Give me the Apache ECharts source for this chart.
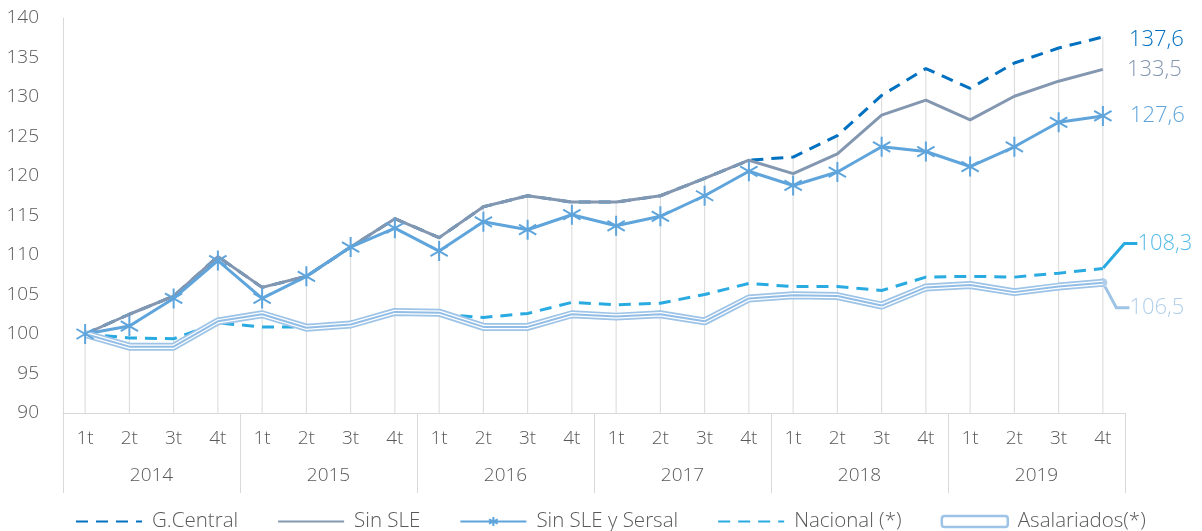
<!DOCTYPE html>
<html>
<head>
<meta charset="utf-8">
<script src="https://cdn.jsdelivr.net/npm/echarts@6/dist/echarts.min.js"></script>
<style>
  html, body { margin: 0; padding: 0; background: #fff; }
  #chart { width: 1202px; height: 531px; }
</style>
</head>
<body>
<div id="chart"></div>
<script>
const years = ['2014', '2015', '2016', '2017', '2018', '2019']
const quarters = ['1t', '2t', '3t', '4t']
const categories = years.flatMap((y) => quarters.map((q) => q + ' ' + y))

const gCentral = [100, 102.5, 104.8, 109.8, 105.9, 107.3, 111.0, 114.6, 112.2, 116.1, 117.5, 116.7,
  116.7, 117.5, 119.7, 122.0, 122.4, 125.1, 130.2, 133.6, 131.1, 134.3, 136.2, 137.6]
const sinSle = [100, 102.5, 104.8, 109.8, 105.9, 107.3, 111.0, 114.6, 112.2, 116.1, 117.5, 116.7,
  116.7, 117.5, 119.7, 122.0, 120.3, 122.8, 127.7, 129.6, 127.1, 130.1, 132.0, 133.5]
const sinSleSersal = [100, 101.0, 104.5, 109.3, 104.5, 107.3, 111.0, 113.4, 110.5, 114.2, 113.2, 115.1,
  113.7, 114.9, 117.5, 120.6, 118.8, 120.5, 123.7, 123.1, 121.2, 123.7, 126.8, 127.6]
const nacional = [100, 99.5, 99.4, 101.4, 100.9, 100.9, 101.5, 102.8, 102.5, 102.1, 102.6, 104.0,
  103.7, 103.9, 105.0, 106.4, 106.0, 106.0, 105.5, 107.2, 107.3, 107.2, 107.7, 108.3]
const asalariados = [100, 98.4, 98.4, 101.6, 102.5, 100.8, 101.2, 102.8, 102.7, 100.9, 100.9, 102.5,
  102.2, 102.5, 101.6, 104.5, 104.9, 104.8, 103.6, 105.9, 106.2, 105.3, 106.0, 106.5]

const yTicks = { min: 90, max: 140, interval: 5 }

// drop lines go from the axis up to the highest series
const dropLines = categories.map((_, i) =>
  Math.max(gCentral[i], sinSle[i], sinSleSersal[i], nacional[i], asalariados[i]))

const last = categories.length - 1
const fmt = (v) => v.toFixed(1).replace('.', ',')

const FONT = 'Open Sans'
const WEIGHT = 300
const TEXT = '#595959'
const AXIS = '#d9d9d9'
const C_GC = '#0070c0'
const C_SLE = '#8497b0'
const C_SERSAL = '#5fa5dc'
const C_NAC = '#29abe2'
const C_ASAL = '#9dc3e6'

const asterisk = 'path://M10 0L10 20M1.34 5L18.66 15M1.34 15L18.66 5'
const noSymbol = { opacity: 0 }

const chart = echarts.init(document.getElementById('chart'))

const endLabel = (color, distance, offset) => ({
  show: true,
  distance,
  offset,
  color,
  fontSize: 22,
  fontFamily: FONT,
  fontWeight: WEIGHT,
  formatter: (p) => fmt(p.value),
})

const option = {
  animation: false,
  textStyle: { fontFamily: FONT, fontWeight: WEIGHT },
  grid: { left: 63, right: 77, top: 18, bottom: 118 },
  legend: {
    left: 70,
    top: 506,
    itemWidth: 66,
    itemHeight: 11,
    itemGap: 39,
    textStyle: { color: TEXT, fontSize: 20.5, fontFamily: FONT, fontWeight: WEIGHT, padding: [0, 0, 0, 5] },
    data: [
      { name: 'G.Central', itemStyle: noSymbol },
      { name: 'Sin SLE', itemStyle: noSymbol },
      { name: 'Sin SLE y Sersal' },
      { name: 'Nacional (*)', itemStyle: noSymbol },
      {
        name: 'Asalariados(*)',
        icon: 'roundRect',
        itemStyle: { color: '#fff', borderColor: C_ASAL, borderWidth: 2.5 },
      },
    ],
  },
  xAxis: [
    {
      type: 'category',
      data: categories,
      position: 'bottom',
      axisLine: { lineStyle: { color: AXIS, width: 1 } },
      axisTick: { show: false },
      axisLabel: {
        color: TEXT,
        fontSize: 19,
        margin: 16,
        interval: 0,
        formatter: (v) => v.split(' ')[0],
      },
    },
    {
      type: 'category',
      data: years,
      position: 'bottom',
      axisLine: { show: false },
      axisTick: { show: true, length: 80, interval: 0, lineStyle: { color: AXIS, width: 1 } },
      axisLabel: { color: TEXT, fontSize: 19, margin: 53, interval: 0 },
    },
  ],
  yAxis: {
    type: 'value',
    min: yTicks.min,
    max: yTicks.max,
    interval: yTicks.interval,
    axisLine: { show: true, lineStyle: { color: AXIS } },
    axisTick: { show: false },
    splitLine: { show: false },
    axisLabel: { color: TEXT, fontSize: 19, margin: 24 },
  },
  series: [
    {
      name: 'drop',
      type: 'bar',
      data: dropLines,
      barWidth: 1,
      silent: true,
      itemStyle: { color: AXIS },
    },
    {
      name: 'G.Central',
      type: 'line',
      data: gCentral,
      symbol: 'none',
      color: C_GC,
      lineStyle: { color: C_GC, width: 3, type: [12, 8] },
      endLabel: endLabel(C_GC, 26, [0, 3]),
    },
    {
      name: 'Sin SLE',
      type: 'line',
      data: sinSle,
      symbol: 'none',
      color: C_SLE,
      lineStyle: { color: C_SLE, width: 3 },
      endLabel: endLabel(C_SLE, 24, [0, 0]),
    },
    {
      name: 'Sin SLE y Sersal',
      type: 'line',
      data: sinSleSersal,
      symbol: asterisk,
      symbolSize: 20,
      symbolKeepAspect: true,
      color: C_SERSAL,
      itemStyle: { color: C_SERSAL, borderColor: C_SERSAL, borderWidth: 2 },
      lineStyle: { color: C_SERSAL, width: 3 },
      endLabel: endLabel(C_SERSAL, 27, [0, 0]),
    },
    {
      name: 'Nacional (*)',
      type: 'line',
      data: nacional,
      symbol: 'none',
      color: C_NAC,
      lineStyle: { color: C_NAC, width: 3, type: [12, 8] },
    },
    {
      name: 'Asalariados(*)',
      type: 'line',
      data: asalariados,
      symbol: 'none',
      color: C_ASAL,
      lineStyle: { color: C_ASAL, width: 8 },
    },
    {
      name: 'asal-gap',
      type: 'line',
      data: asalariados,
      symbol: 'none',
      silent: true,
      lineStyle: { color: '#fff', width: 4.5 },
    },
    {
      name: 'asal-core',
      type: 'line',
      data: asalariados,
      symbol: 'none',
      silent: true,
      lineStyle: { color: '#92bde6', width: 2 },
    },
    {
      name: 'nac-label',
      type: 'scatter',
      data: [[last, nacional[last]]],
      symbolSize: 1,
      itemStyle: { color: 'rgba(0,0,0,0)' },
      label: {
        show: true,
        position: 'right',
        distance: 0,
        padding: [0, 0, 0, 10],
        color: C_NAC,
        fontSize: 22,
        fontFamily: FONT,
        fontWeight: WEIGHT,
        formatter: (p) => fmt(p.value[1]),
      },
      labelLayout: { dx: 24, dy: -25 },
      labelLine: { show: true, length2: 13, lineStyle: { color: C_NAC, width: 3 } },
    },
    {
      name: 'asal-label',
      type: 'scatter',
      data: [[last, asalariados[last]]],
      symbolSize: 9,
      itemStyle: { color: C_ASAL },
      label: {
        show: true,
        position: 'right',
        distance: 0,
        padding: [0, 0, 0, 10],
        color: C_ASAL,
        fontSize: 22,
        fontFamily: FONT,
        fontWeight: WEIGHT,
        formatter: (p) => fmt(p.value[1]),
      },
      labelLayout: { dx: 12, dy: 25 },
      labelLine: { show: true, length2: 13, lineStyle: { color: C_ASAL, width: 3 } },
    },
  ],
}

chart.setOption(option)
</script>
</body>
</html>
